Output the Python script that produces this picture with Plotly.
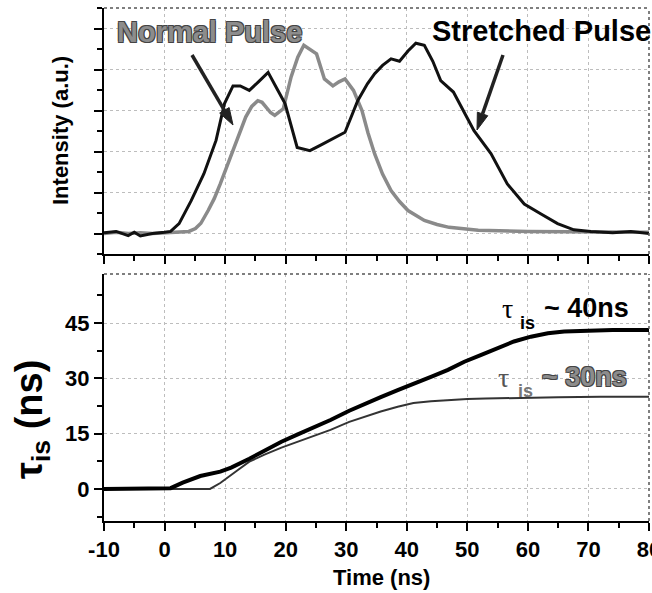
import math
import plotly.graph_objects as go

# ---------------- data ----------------
time_stretched = [-10, -8, -6, -5, -4, -2, 0, 1, 2.4, 4.4, 6.5, 8.5, 9.9, 11.3, 12.5, 14, 15.5,
                  17.1, 18.5, 19.9, 21.9, 23, 24, 25.7, 27.8, 29.8, 31.9, 33.5, 34.7, 36, 37.4,
                  38.8, 40.2, 41.5, 42.9, 44.3, 45.6, 47.7, 51.1, 53.9, 56.6, 59.4, 62.1, 64.9,
                  67.6, 70.4, 74, 77, 80]
intensity_stretched = [0.02, 0.05, -0.05, 0.03, -0.06, 0.0, 0.03, 0.05, 0.24, 0.8, 1.46, 2.27, 3.17,
                       3.6, 3.6, 3.49, 3.7, 3.93, 3.55, 3.17, 2.1, 2.05, 2.02, 2.15, 2.31, 2.47,
                       3.24, 3.65, 3.9, 4.1, 4.26, 4.2, 4.45, 4.64, 4.59, 4.2, 3.73, 3.45, 2.51,
                       1.95, 1.21, 0.72, 0.48, 0.24, 0.09, 0.05, 0.02, 0.05, 0.0]

time_normal = [-10, -8, -6, -4, -2, 0, 2, 4, 5.1, 6, 7.2, 8.2, 9.2, 10.2, 11.3, 12.3, 13.4, 14.4,
               15.4, 16.1, 16.8, 17.5, 18.2, 19.6, 20.9, 22, 23, 24, 25.1, 26.4, 27.8, 28.8,
               29.8, 31.2, 32.6, 33.6, 34.7, 36, 37.4, 38.8, 40.2, 42.9, 45, 47, 51.8, 60, 70, 80]
intensity_normal = [0.0, 0.03, 0.0, 0.02, 0.0, 0.02, 0.03, 0.05, 0.12, 0.25, 0.56, 0.85, 1.21,
                    1.6, 2.02, 2.45, 2.84, 3.1, 3.24, 3.2, 3.08, 2.95, 2.88, 3.04, 3.82, 4.3,
                    4.59, 4.5, 4.38, 3.77, 3.6, 3.7, 3.77, 3.49, 3.0, 2.45, 1.94, 1.45, 1.05,
                    0.78, 0.56, 0.32, 0.22, 0.15, 0.08, 0.05, 0.04, 0.03]

time_tau40 = [-10, 0, 1, 3, 5.9, 9.2, 11, 14, 16.5, 19.3, 22, 25, 27.4, 30.5, 33, 35.7, 38.5,
              41.1, 44.3, 46.8, 49.5, 52.2, 55, 57.7, 60.5, 63.3, 66, 68.8, 74, 80]
tau40 = [0, 0, 0.2, 1.7, 3.5, 4.7, 5.8, 8.2, 10.5, 12.8, 14.8, 16.9, 18.7, 21.2, 23.1, 24.9, 26.8,
         28.4, 30.6, 32.3, 34.5, 36.3, 38.3, 40.0, 41.3, 42.2, 42.7, 42.9, 43.1, 43.1]

time_tau30 = [-10, 0, 7.5, 9.2, 9.9, 12, 14, 16.5, 19.3, 22, 25, 27.4, 30.5, 33, 35.7, 38.5,
              41.1, 44, 46.8, 50, 53, 57.7, 65, 72, 80]
tau30 = [0, 0, 0, 1.6, 2.4, 5.0, 7.4, 9.3, 11.2, 12.8, 14.5, 16.0, 18.2, 19.6, 21.0, 22.3,
         23.3, 23.8, 24.1, 24.4, 24.5, 24.7, 24.9, 25.0, 25.0]

x_ticks = [-10, 0, 10, 20, 30, 40, 50, 60, 70, 80]
x_tick_labels = ["-10", "0", "10", "20", "30", "40", "50", "60", "70", "80"]
tau_ticks = [0, 15, 30, 45]

# ---------------- layout helpers ----------------
W, H = 652, 593
L, R, T, B = 104, 3, 8, 72
PW, PH = W - L - R, H - T - B


def px(x):
    return (x - L) / PW


def py(y):
    return (H - B - y) / PH


FONT = "Liberation Sans, Arial, sans-serif"
OUTLINE = "1px 1px 0 #444, -1px -1px 0 #444, 1px -1px 0 #444, -1px 1px 0 #444"

fig = go.Figure()
fig.add_trace(go.Scatter(x=time_normal, y=intensity_normal, mode="lines",
                         line=dict(color="#8a8a8a", width=3.5), xaxis="x", yaxis="y"))
fig.add_trace(go.Scatter(x=time_stretched, y=intensity_stretched, mode="lines",
                         line=dict(color="#111111", width=3), xaxis="x", yaxis="y"))
fig.add_trace(go.Scatter(x=time_tau30, y=tau30, mode="lines",
                         line=dict(color="#333333", width=2), xaxis="x2", yaxis="y2"))
fig.add_trace(go.Scatter(x=time_tau40, y=tau40, mode="lines",
                         line=dict(color="#000000", width=4), xaxis="x2", yaxis="y2"))

common_x = dict(range=[-10, 80], tickvals=x_ticks, ticktext=x_tick_labels, ticks="outside",
                ticklen=8, tickwidth=2, ticklabeloverflow="allow", automargin=False,
                tickcolor="black", showline=True, linewidth=2, linecolor="black",
                showgrid=True, gridcolor="#bdbdbd", griddash="dot", gridwidth=1,
                zeroline=False,
                minor=dict(tick0=-5, dtick=10, ticks="outside", ticklen=5, tickwidth=2,
                           tickcolor="black", showgrid=False))

top_dom = [py(254), 1]
bot_dom = [0, py(274)]

fig.update_layout(
    template="none",
    width=W, height=H, autosize=False,
    margin=dict(l=L, r=R, t=T, b=B, pad=0),
    paper_bgcolor="white", plot_bgcolor="white",
    showlegend=False,
    font=dict(family=FONT, color="black"),
    xaxis=dict(common_x, anchor="y", domain=[0, 1], showticklabels=False),
    yaxis=dict(domain=top_dom, range=[-0.5, 5.5], tickvals=[0, 1, 2, 3, 4, 5],
               showticklabels=False, ticks="outside", ticklen=8, tickwidth=2, automargin=False,
               tickcolor="black", showline=True, linewidth=2, linecolor="black",
               showgrid=True, gridcolor="#bdbdbd", griddash="dot", zeroline=False,
               minor=dict(tick0=0.5, dtick=1, ticks="outside", ticklen=5, tickwidth=2,
                          tickcolor="black", showgrid=False)),
    xaxis2=dict(common_x, anchor="y2", domain=[0, 1], showticklabels=True,
                tickfont=dict(family=FONT, size=22, color="black", weight="bold")),
    yaxis2=dict(domain=bot_dom, range=[-8.7, 58.3], tickvals=tau_ticks, automargin=False,
                ticks="outside", ticklen=8, tickwidth=2, tickcolor="black",
                showline=True, linewidth=2, linecolor="black",
                showgrid=True, gridcolor="#bdbdbd", griddash="dot", zeroline=False,
                tickfont=dict(family=FONT, size=22, color="black", weight="bold"),
                minor=dict(tick0=-7.5, dtick=15, ticks="outside", ticklen=5, tickwidth=2,
                           tickcolor="black", showgrid=False)),
)

# dotted top / right frame lines
for xr, yr in (("x domain", "y domain"), ("x2 domain", "y2 domain")):
    fig.add_shape(type="line", xref=xr, yref=yr, x0=0, x1=1, y0=1, y1=1,
                  line=dict(color="#555555", width=1.5, dash="dot"))
    fig.add_shape(type="line", xref=xr, yref=yr, x0=1, x1=1, y0=0, y1=1,
                  line=dict(color="#555555", width=1.5, dash="dot"))


def ann(text, x, y, size, color="black", xanchor="center", angle=0, family=FONT,
        weight="bold", shadow=None):
    f = dict(family=family, size=size, color=color, weight=weight)
    if shadow:
        f["shadow"] = shadow
    fig.add_annotation(text=text, xref="paper", yref="paper", x=px(x), y=py(y),
                       xanchor=xanchor, yanchor="middle", showarrow=False,
                       textangle=angle, font=f)


def arrow(tail, tip, head_len=17, half_w=5.5, color="#222222"):
    dx, dy = tip[0] - tail[0], tip[1] - tail[1]
    n = math.hypot(dx, dy)
    ux, uy = dx / n, dy / n
    bx, by = tip[0] - head_len * ux, tip[1] - head_len * uy
    fig.add_shape(type="line", xref="paper", yref="paper",
                  x0=px(tail[0]), y0=py(tail[1]), x1=px(bx), y1=py(by),
                  line=dict(color=color, width=3.5))
    p1 = (bx - half_w * uy, by + half_w * ux)
    p2 = (bx + half_w * uy, by - half_w * ux)
    path = "M {} {} L {} {} L {} {} Z".format(px(tip[0]), py(tip[1]), px(p1[0]), py(p1[1]),
                                              px(p2[0]), py(p2[1]))
    fig.add_shape(type="path", xref="paper", yref="paper", path=path,
                  fillcolor=color, line=dict(color=color, width=1))


# axis titles
ann("Intensity (a.u.)", 60, 131, 22, angle=-90)
ann("τ<sub>is</sub> (ns)", 32, 420, 38, angle=-90)
ann("Time (ns)", 381, 577, 22)

# pulse labels
ann("Normal Pulse", 209, 32, 29, color="#8c8c8c", shadow=OUTLINE)
ann("Stretched Pulse", 430, 31, 29, xanchor="left")

# arrows
arrow((192, 55), (233, 125))
arrow((503, 55), (477, 130))

# tau labels
ann("τ", 507, 308, 28, family="Liberation Serif, serif", weight="normal")
ann("is", 527, 323, 18)
ann("~ 40ns", 542, 308, 27, xanchor="left")
ann("τ", 503, 377, 28, color="#555555", family="Liberation Serif, serif", weight="normal")
ann("is", 525, 391, 18, color="#777777")
ann("~ 30ns", 540, 377, 27, color="#8c8c8c", xanchor="left", shadow=OUTLINE)

fig.write_html(
    "out.html",
    config={"displayModeBar": False, "responsive": False},
    post_script="document.body.style.margin='0';document.body.style.padding='0';"
                "document.documentElement.style.overflow='hidden';",
)
